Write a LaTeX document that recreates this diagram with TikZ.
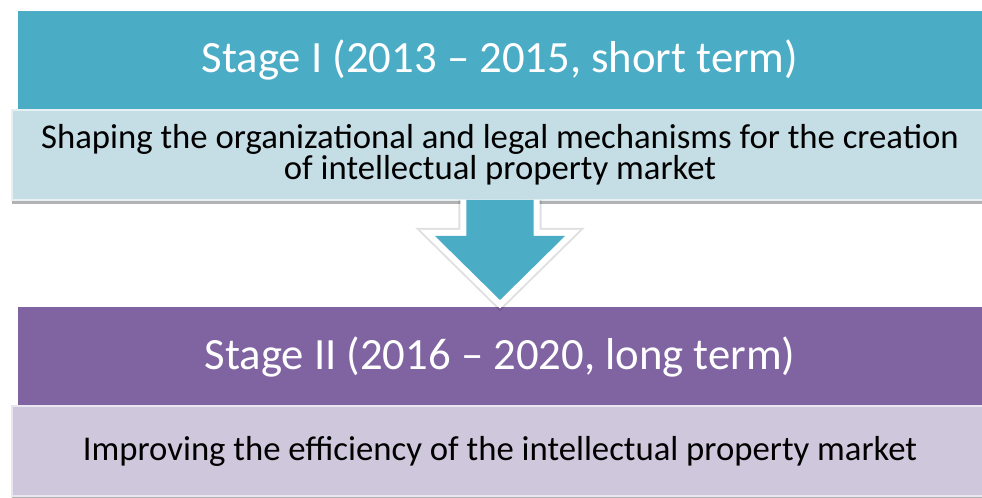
\documentclass[tikz,border=0pt]{standalone}
\usepackage{fontspec}
\setmainfont{Carlito}
\usetikzlibrary{positioning,shadows}

\definecolor{tealhead}{RGB}{75,172,198}
\definecolor{tealbody}{RGB}{197,221,229}
\definecolor{purplehead}{RGB}{128,100,162}
\definecolor{purplebody}{RGB}{207,199,220}

\tikzset{
  stagehead/.style={minimum width=24.1cm, minimum height=2.475cm, inner sep=0pt,
    outer sep=0pt, text=white, font=\fontsize{31.8}{38}\selectfont},
  stagebody/.style={minimum width=24.4cm, minimum height=2.25cm, inner sep=0pt,
    outer sep=0pt, line width=0.05cm, align=center, text=black,
    font=\fontsize{24.7}{21}\selectfont,
    drop shadow={shadow xshift=0pt, shadow yshift=-0.1cm, opacity=0.3, fill=black}},
  arrowline/.style={draw=white, line width=0.3cm, miter limit=4},
}

\begin{document}
\begin{tikzpicture}

  \useasboundingbox (0,0) rectangle (24.55,12.45);

  % stage I
  \node[stagehead, fill=tealhead, anchor=north] (head1) at (12.5,12.175)
    {Stage I (2013 -- 2015, short term)};
  \node[stagebody, fill=tealbody, draw=white!55!tealbody, below=0pt of head1] (body1)
    {Shaping the organizational and legal mechanisms for the creation\\
     of intellectual property market};

  % stage II
  \node[stagehead, fill=purplehead, below=2.675cm of body1] (head2)
    {Stage II (2016 -- 2020, long term)};
  \node[stagebody, fill=purplebody, draw=white!55!purplebody, below=0pt of head2] (body2)
    {Improving the efficiency of the intellectual property market};

  % block arrow
  \coordinate (tip) at ([yshift=0.175cm]head2.north);
  \draw[arrowline, draw=black, opacity=0.12, line width=0.4cm, xshift=0.04cm, yshift=-0.04cm]
    ([xshift=-0.84cm]body1.south) -- ([xshift=-0.84cm,yshift=-0.9cm]body1.south)
    -- ([xshift=-1.625cm,yshift=-0.9cm]body1.south) -- (tip)
    -- ([xshift=1.625cm,yshift=-0.9cm]body1.south) -- ([xshift=0.84cm,yshift=-0.9cm]body1.south)
    -- ([xshift=0.84cm]body1.south);
  \draw[arrowline] ([xshift=-0.84cm]body1.south) -- ([xshift=-0.84cm,yshift=-0.9cm]body1.south)
    -- ([xshift=-1.625cm,yshift=-0.9cm]body1.south) -- (tip)
    -- ([xshift=1.625cm,yshift=-0.9cm]body1.south) -- ([xshift=0.84cm,yshift=-0.9cm]body1.south)
    -- ([xshift=0.84cm]body1.south);
  \fill[tealhead] ([xshift=-0.84cm]body1.south) -- ([xshift=-0.84cm,yshift=-0.9cm]body1.south)
    -- ([xshift=-1.625cm,yshift=-0.9cm]body1.south) -- (tip)
    -- ([xshift=1.625cm,yshift=-0.9cm]body1.south) -- ([xshift=0.84cm,yshift=-0.9cm]body1.south)
    -- ([xshift=0.84cm]body1.south) -- cycle;

\end{tikzpicture}
\end{document}
